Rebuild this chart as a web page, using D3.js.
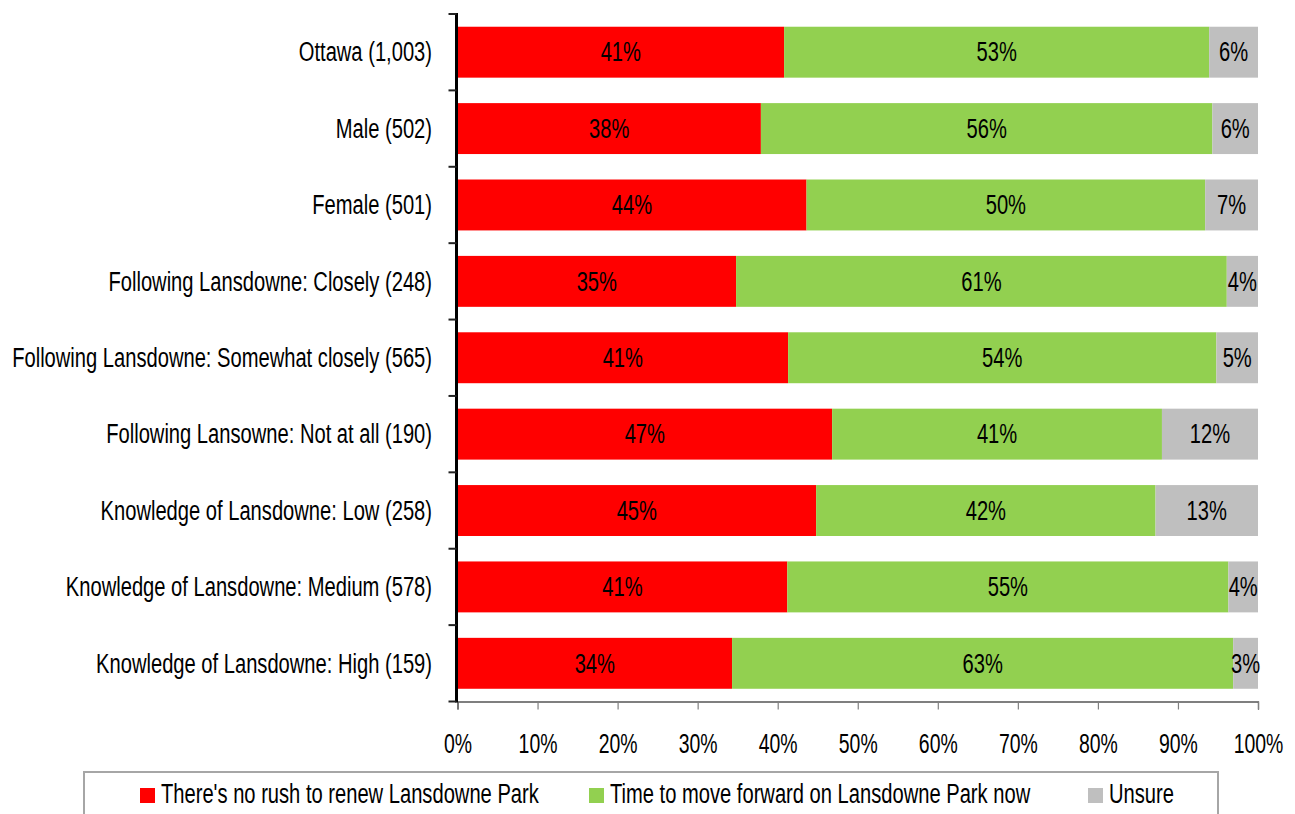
<!DOCTYPE html>
<html>
<head>
<meta charset="utf-8">
<script src="https://cdn.jsdelivr.net/npm/d3@7"></script>
<style>
  html, body { margin: 0; padding: 0; background: #fff; }
  svg { display: block; }
  text { font-family: "Liberation Sans", Arial, sans-serif; fill: #000; }
</style>
</head>
<body>
<svg id="chart" width="1295" height="814"></svg>
<script>
// Survey groups (top to bottom)
const categories = [
  "Ottawa (1,003)",
  "Male (502)",
  "Female (501)",
  "Following Lansdowne: Closely (248)",
  "Following Lansdowne: Somewhat closely (565)",
  "Following Lansowne: Not at all (190)",
  "Knowledge of Lansdowne: Low (258)",
  "Knowledge of Lansdowne: Medium (578)",
  "Knowledge of Lansdowne: High (159)"
];

// Share of respondents (percent) per answer
const noRush   = [40.8, 37.9, 43.6, 34.8, 41.3, 46.8, 44.8, 41.2, 34.3];
const moveNow  = [53.1, 56.4, 49.8, 61.3, 53.5, 41.2, 42.4, 55.1, 62.6];
const unsure   = [ 6.1,  5.7,  6.6,  3.9,  5.2, 12.0, 12.8,  3.7,  3.1];

const seriesNames = [
  "There's no rush to renew Lansdowne Park",
  "Time to move forward on Lansdowne Park now",
  "Unsure"
];
const seriesColors = ["#ff0000", "#92d050", "#bfbfbf"];
const xTicks = [0, 10, 20, 30, 40, 50, 60, 70, 80, 90, 100];

// Text is drawn in a narrowed sans face
const FONT_SIZE = 28;
const NARROW = 0.72;
function place(px, py) {
  return `translate(${px},${py}) scale(${NARROW},1)`;
}

const svg = d3.select("#chart");
const plotLeft = 457.5, plotRight = 1258, plotTop = 14, plotBottom = 701.5;

const x = d3.scaleLinear().domain([0, 100]).range([plotLeft, plotRight]);
const y = d3.scaleBand().domain(categories).range([plotTop, plotBottom])
  .paddingInner(1 / 3).paddingOuter(1 / 6);

const rows = categories.map((c, i) => ({ cat: c, noRush: noRush[i], moveNow: moveNow[i], unsure: unsure[i] }));
const keys = ["noRush", "moveNow", "unsure"];
const stacked = d3.stack().keys(keys)(rows);

// Stacked bars
const layers = svg.append("g").selectAll("g").data(stacked).join("g")
  .attr("fill", (d, i) => seriesColors[i]);

layers.selectAll("rect").data(d => d).join("rect")
  .attr("x", d => x(d[0]))
  .attr("y", d => y(d.data.cat))
  .attr("width", d => x(d[1]) - x(d[0]))
  .attr("height", y.bandwidth());

// Value labels centred in each segment
layers.selectAll("text").data(d => d).join("text")
  .attr("transform", d => place((x(d[0]) + x(d[1])) / 2, y(d.data.cat) + y.bandwidth() / 2))
  .attr("dy", "0.33em")
  .attr("text-anchor", "middle")
  .style("font-size", FONT_SIZE + "px")
  .text(d => Math.round(d[1] - d[0]) + "%");

// X axis
const xAxis = svg.append("g")
  .attr("transform", `translate(0,${plotBottom})`)
  .call(d3.axisBottom(x).tickValues(xTicks).tickSize(8).tickPadding(14)
    .tickFormat(d => d + "%"));
xAxis.select(".domain").attr("stroke", "#000").attr("stroke-width", 1.2);
xAxis.selectAll(".tick line").attr("stroke", "#808080").attr("stroke-width", 1.2);
xAxis.selectAll(".tick text")
  .attr("y", null).attr("dy", null)
  .attr("transform", place(0, 51))
  .style("font-size", "27px");

// Y axis: thick spine with ticks at band boundaries
const yAxis = svg.append("g");
yAxis.append("line")
  .attr("x1", plotLeft - 1).attr("x2", plotLeft - 1)
  .attr("y1", plotTop - 1).attr("y2", plotBottom + 1)
  .attr("stroke", "#000").attr("stroke-width", 3);
const step = y.step();
const boundaries = categories.map(c => y(c) - (step - y.bandwidth()) / 2).concat([plotBottom]);
yAxis.selectAll("line.tick").data(boundaries).join("line")
  .attr("class", "tick")
  .attr("x1", plotLeft - 9).attr("x2", plotLeft - 1)
  .attr("y1", d => d).attr("y2", d => d)
  .attr("stroke", "#222").attr("stroke-width", 2);

// Category labels
svg.append("g").selectAll("text").data(categories).join("text")
  .attr("transform", d => place(432, y(d) + y.bandwidth() / 2))
  .attr("dy", "0.33em")
  .attr("text-anchor", "end")
  .style("font-size", FONT_SIZE + "px")
  .text(d => d);

// Legend
const legend = svg.append("g");
legend.append("rect")
  .attr("x", 84).attr("y", 772)
  .attr("width", 1134).attr("height", 60)
  .attr("fill", "none").attr("stroke", "#a6a6a6").attr("stroke-width", 2);

const legendX = [140, 589, 1088];
const items = legend.selectAll("g.item").data(seriesNames).join("g")
  .attr("class", "item")
  .attr("transform", (d, i) => `translate(${legendX[i]},788)`);
items.append("rect")
  .attr("width", 15).attr("height", 15)
  .attr("fill", (d, i) => seriesColors[i]);
items.append("text")
  .attr("transform", place(21, 15))
  .style("font-size", FONT_SIZE + "px")
  .text(d => d);
</script>
</body>
</html>
